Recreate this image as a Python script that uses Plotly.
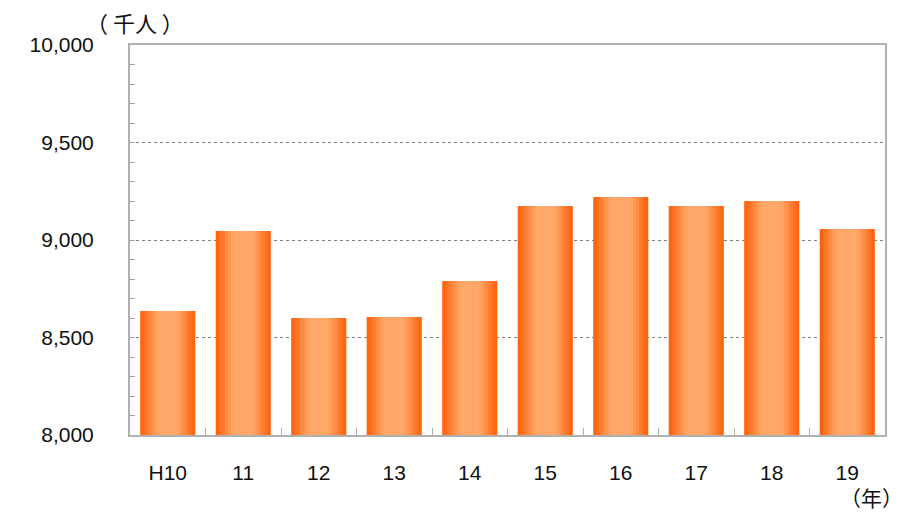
import plotly.graph_objects as go

categories = ["H10", "11", "12", "13", "14", "15", "16", "17", "18", "19"]
values = [8636, 9046, 8600, 8605, 8790, 9174, 9220, 9174, 9200, 9056]
y_tickvals = [8000, 8500, 9000, 9500, 10000]
y_ticktext = ["8,000", "8,500", "9,000", "9,500", "10,000"]

FONT = "Arial, Liberation Sans, sans-serif"
CJK = "Noto Sans CJK JP, Noto Sans CJK SC, sans-serif"
edge = (255, 100, 15)
center = (255, 168, 106)
N = 9
full_w = 0.73

fig = go.Figure()
for k in range(N):
    t = min(1.0, k / (N * 0.6))
    col = tuple(round(edge[i] + (center[i] - edge[i]) * t) for i in range(3))
    w = full_w * (1 - k / N)
    fig.add_trace(go.Bar(
        x=categories, y=values, width=w,
        marker=dict(color="rgb(%d,%d,%d)" % col, line=dict(width=0), opacity=1),
        hoverinfo="skip" if k else "x+y", showlegend=False,
    ))

fig.update_layout(
    width=908, height=514,
    margin=dict(l=130, r=23, t=45, b=79),
    paper_bgcolor="white", plot_bgcolor="white",
    barmode="overlay",
    font=dict(family=FONT, size=21, color="#111111"),
    showlegend=False,
    annotations=[
        dict(text="（ 千人 ）", xref="paper", yref="paper", x=0.006, y=1.059,
             xanchor="center", yanchor="middle", showarrow=False,
             font=dict(size=22, family=CJK)),
        dict(text="（年）", xref="paper", yref="paper", x=0.982, y=-0.16,
             xanchor="center", yanchor="middle", showarrow=False,
             font=dict(size=21, family=CJK)),
    ],
)
fig.update_xaxes(
    type="category", range=[-0.5, 9.5],
    showline=True, linecolor="#B0B0B0", linewidth=2, mirror=True,
    ticks="inside", tickson="boundaries", ticklen=7, tickcolor="#B0B0B0",
    ticklabelstandoff=18, showgrid=False,
    tickfont=dict(size=21, family=FONT),
)
fig.update_yaxes(
    range=[8000, 10000], tickvals=y_tickvals, ticktext=y_ticktext,
    showline=True, linecolor="#B0B0B0", linewidth=2, mirror=True,
    ticks="inside", ticklen=5, tickcolor="#A0A0A0",
    minor=dict(dtick=100, ticks="inside", ticklen=5, tickcolor="#A0A0A0", showgrid=False),
    showgrid=True, gridcolor="#808080", griddash="dot", gridwidth=1,
    ticklabelstandoff=30, zeroline=False,
    tickfont=dict(size=21, family=FONT),
)

fig.write_html("out.html")
